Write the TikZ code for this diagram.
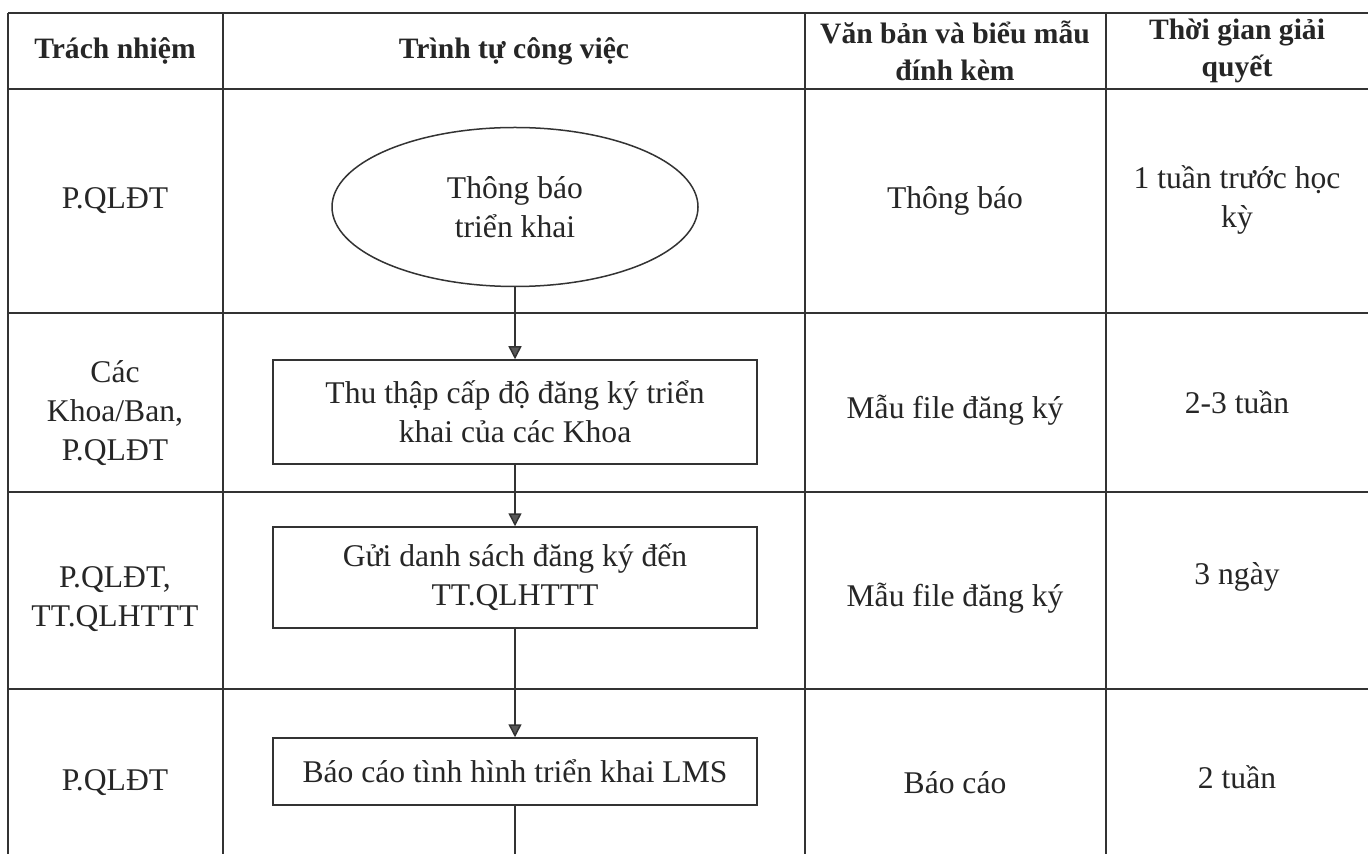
\documentclass[tikz,border=0pt]{standalone}
\usepackage{fontspec}
\setmainfont{Liberation Serif}
\usetikzlibrary{shapes.geometric,arrows.meta}
\begin{document}
\begin{tikzpicture}[x=0.5pt,y=-0.5pt,
  gridline/.style={line width=0.75pt, draw=black!80},
  txt/.style={align=center, font=\fontsize{15.8}{19.5}\selectfont, text=black!85, inner sep=0pt},
  hdr/.style={align=center, font=\fontsize{14.8}{18.5}\selectfont\bfseries, text=black!85, inner sep=0pt},
  procbox/.style={draw=black!80, line width=0.75pt, minimum width=242pt, align=center,
     font=\fontsize{15.8}{19.5}\selectfont, text=black!85, inner sep=0pt},
  startell/.style={ellipse, draw=black!80, line width=0.75pt, minimum width=183pt, minimum height=79.5pt,
     align=center, font=\fontsize{15.8}{19.5}\selectfont, text=black!85, inner sep=0pt},
  flow/.style={line width=0.75pt, draw=black!80, -{Triangle[width=6.5pt,length=6.5pt,fill=black!65]}},
  flowend/.style={line width=0.75pt, draw=black!80}
]
\useasboundingbox (0,0) rectangle (1368,854);
\fill[white] (0,0) rectangle (1368,854);

% table grid
\draw[gridline] (8,13) -- (1368,13);
\draw[gridline] (8,89) -- (1368,89);
\draw[gridline] (8,313) -- (1368,313);
\draw[gridline] (8,492) -- (1368,492);
\draw[gridline] (8,689) -- (1368,689);
\draw[gridline] (8,13) -- (8,854);
\draw[gridline] (223,13) -- (223,854);
\draw[gridline] (805,13) -- (805,854);
\draw[gridline] (1106,13) -- (1106,854);

% header
\node[hdr] (h1) at (115,51) {Trách nhiệm};
\node[hdr] (h2) at (514,51) {Trình tự công việc};
\node[hdr] (h3) at (955,51) {Văn bản và biểu mẫu\\đính kèm};
\node[hdr] (h4) at (1237,51) {Thời gian giải\\quyết};

% column 1
\node[txt] (r1) at (115,201) {P.QLĐT};
\node[txt] (r2) at (115,413) {Các\\Khoa/Ban,\\P.QLĐT};
\node[txt] (r3) at (115,599) {P.QLĐT,\\TT.QLHTTT};
\node[txt] (r4) at (115,783) {P.QLĐT};

% column 3
\node[txt] (d1) at (955,201) {Thông báo};
\node[txt] (d2) at (955,410) {Mẫu file đăng ký};
\node[txt] (d3) at (955,598) {Mẫu file đăng ký};
\node[txt] (d4) at (955,783) {Báo cáo};

% column 4
\node[txt] (t1) at (1237,200) {1 tuần trước học\\kỳ};
\node[txt] (t2) at (1237,402) {2-3 tuần};
\node[txt] (t3) at (1237,577) {3 ngày};
\node[txt] (t4) at (1237,777) {2 tuần};

% flow
\node[startell] (ell) at (515,207) {Thông báo\\triển khai};
\node[procbox, minimum height=52pt] (b1) at (515,412) {Thu thập cấp độ đăng ký triển\\khai của các Khoa};
\node[procbox, minimum height=50.5pt] (b2) at (515,577.5) {Gửi danh sách đăng ký đến\\TT.QLHTTT};
\node[procbox, minimum height=33.5pt] (b3) at (515,771.5) {Báo cáo tình hình triển khai LMS};
\coordinate (cont) at (515,860);

\draw[flow] (ell.south) -- (b1.north);
\draw[flow] (b1.south) -- (b2.north);
\draw[flow] (b2.south) -- (b3.north);
\draw[flowend] (b3.south) -- (cont);
\end{tikzpicture}
\end{document}
